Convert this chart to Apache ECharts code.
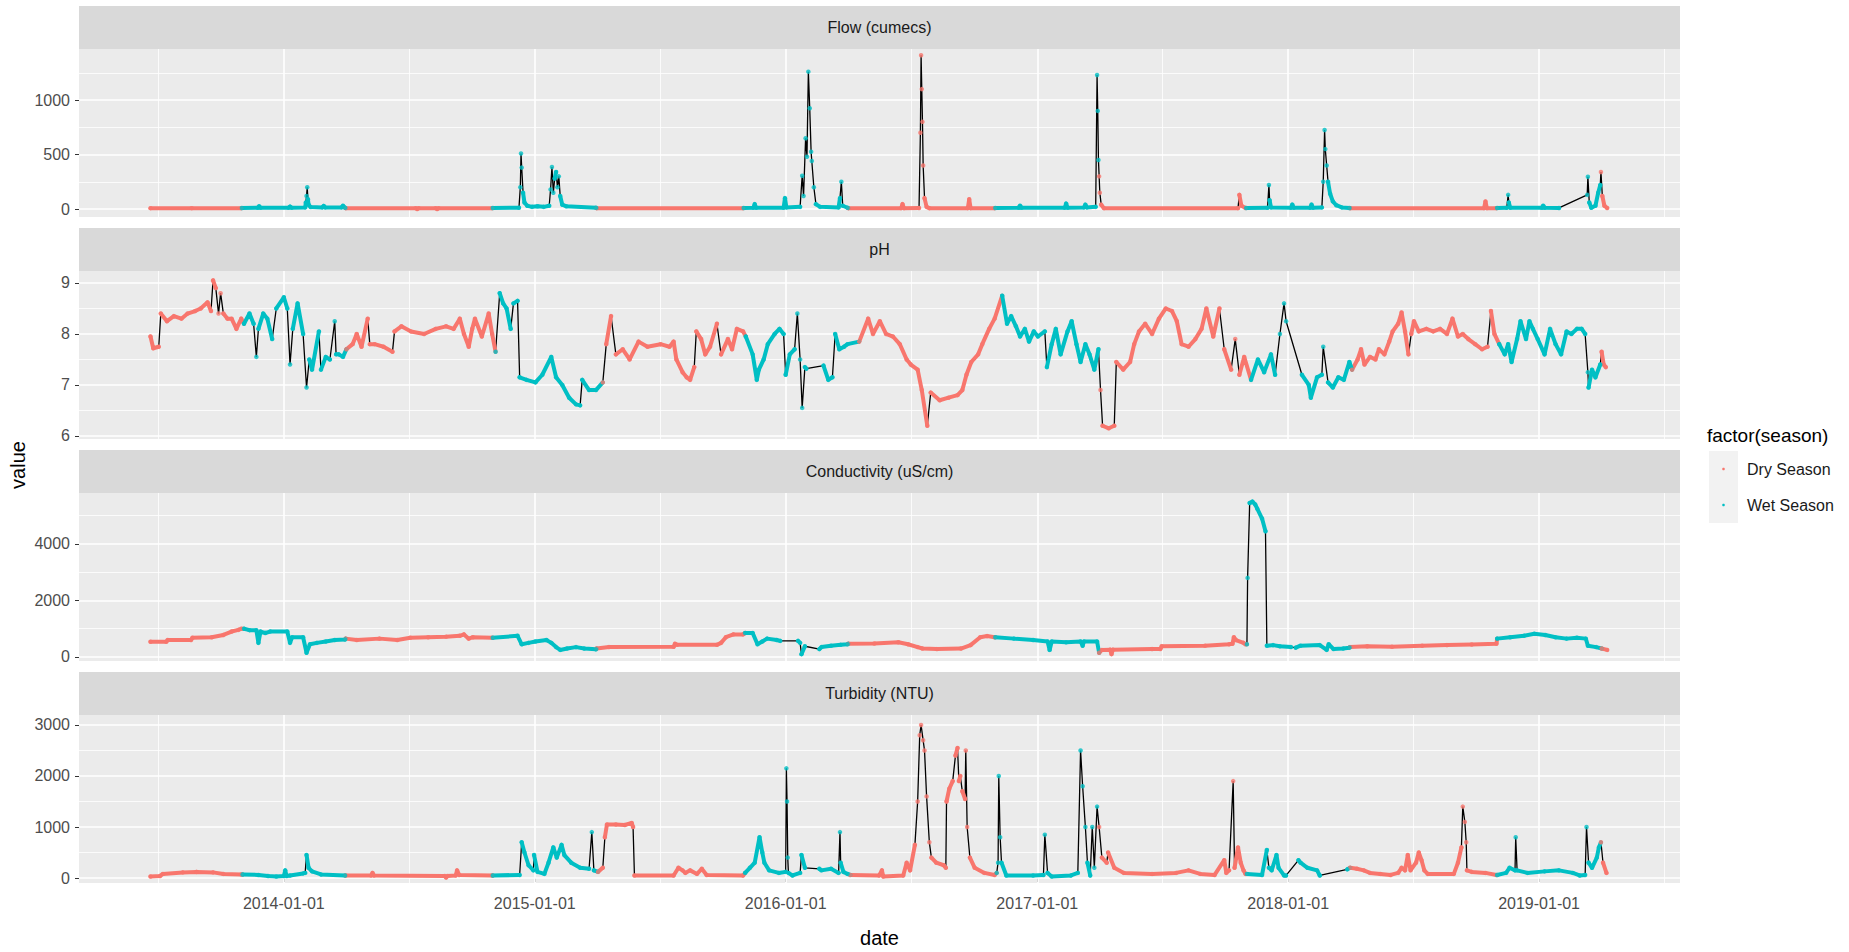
<!DOCTYPE html>
<html>
<head>
<meta charset="utf-8">
<title>Water quality time series by season</title>
<script src="https://cdn.jsdelivr.net/npm/echarts@6/dist/echarts.min.js"></script>
<style>
  html, body { margin: 0; padding: 0; background: #ffffff; }
  #chart { width: 1849px; height: 952px; }
</style>
</head>
<body>
<div id="chart"></div>
<script>
// ---------------------------------------------------------------------------
// Data: daily readings summarised as [date, value]; null marks a stretch with
// no records (the connecting line still runs across it).
// ---------------------------------------------------------------------------
const facetTitles = ['Flow (cumecs)', 'pH', 'Conductivity (uS/cm)', 'Turbidity (NTU)'];
const seasonNames = ['Dry Season', 'Wet Season'];
const wetMonths = [11, 12, 1, 2, 3];

const yearTicks = ['2014-01-01', '2015-01-01', '2016-01-01', '2017-01-01', '2018-01-01', '2019-01-01'];
const dateLimits = ['2013-03-09', '2019-07-25'];

const flowTicks = [0, 500, 1000];
const phTicks = [6, 7, 8, 9];
const condTicks = [0, 2000, 4000];
const turbTicks = [0, 1000, 2000, 3000];

const flowLimits = [-73, 1468];
const phLimits = [5.94, 9.235];
const condLimits = [-142, 5805];
const turbLimits = [-98, 3196];

const flowData = [
  ['2013-06-21', 8], ['2013-08-20', 8], ['2013-10-31', 8],
  ['2013-11-01', 10], ['2013-11-24', 12], ['2013-11-26', 25], ['2013-11-28', 12],
  ['2014-01-08', 12], ['2014-01-10', 22], ['2014-01-12', 12],
  ['2014-02-01', 15], ['2014-02-02', 60], ['2014-02-03', 120], ['2014-02-04', 200], ['2014-02-05', 90], ['2014-02-06', 40], ['2014-02-09', 18],
  ['2014-02-26', 15], ['2014-02-28', 28], ['2014-03-02', 15], ['2014-03-26', 15], ['2014-03-28', 30], ['2014-03-31', 12],
  ['2014-04-01', 8], ['2014-07-12', 8], ['2014-07-14', 0], ['2014-07-16', 8], ['2014-08-10', 8], ['2014-08-12', 0], ['2014-08-14', 8], ['2014-10-31', 8],
  ['2014-11-01', 10], ['2014-12-09', 12], ['2014-12-11', 200], ['2014-12-12', 510], ['2014-12-13', 380], ['2014-12-15', 150], ['2014-12-17', 60], ['2014-12-21', 30], ['2014-12-28', 20], ['2015-01-05', 25], ['2015-01-14', 20],
  ['2015-01-22', 30], ['2015-01-24', 180], ['2015-01-26', 385], ['2015-01-28', 150], ['2015-01-30', 280], ['2015-02-01', 340], ['2015-02-03', 200], ['2015-02-05', 300], ['2015-02-07', 120], ['2015-02-10', 40], ['2015-02-16', 25], ['2015-03-31', 12],
  ['2015-04-01', 8], ['2015-10-31', 8],
  ['2015-11-01', 10], ['2015-11-15', 12], ['2015-11-17', 45], ['2015-11-19', 12], ['2015-12-29', 12], ['2015-12-31', 100], ['2016-01-02', 15],
  ['2016-01-22', 20], ['2016-01-25', 305], ['2016-01-27', 120], ['2016-01-30', 650], ['2016-02-01', 480], ['2016-02-03', 1260], ['2016-02-05', 925], ['2016-02-07', 525], ['2016-02-08', 440], ['2016-02-11', 200], ['2016-02-14', 45], ['2016-02-20', 20],
  ['2016-03-18', 15], ['2016-03-20', 100], ['2016-03-22', 250], ['2016-03-24', 30], ['2016-03-31', 12],
  ['2016-04-01', 8], ['2016-06-17', 8], ['2016-06-19', 45], ['2016-06-21', 8],
  ['2016-07-13', 10], ['2016-07-15', 700], ['2016-07-16', 1410], ['2016-07-17', 1100], ['2016-07-18', 800], ['2016-07-19', 400], ['2016-07-21', 100], ['2016-07-24', 20], ['2016-07-28', 8],
  ['2016-09-22', 8], ['2016-09-24', 90], ['2016-09-26', 8], ['2016-10-31', 8],
  ['2016-11-01', 10], ['2016-12-05', 12], ['2016-12-07', 30], ['2016-12-09', 12], ['2017-02-10', 12], ['2017-02-12', 50], ['2017-02-14', 12], ['2017-03-10', 15], ['2017-03-12', 40], ['2017-03-14', 15],
  ['2017-03-27', 20], ['2017-03-29', 1230], ['2017-03-30', 900], ['2017-03-31', 450],
  ['2017-04-01', 300], ['2017-04-02', 150], ['2017-04-04', 40], ['2017-04-08', 8], ['2017-10-20', 8], ['2017-10-22', 130], ['2017-10-25', 30], ['2017-10-31', 10],
  ['2017-11-01', 10], ['2017-12-02', 12], ['2017-12-04', 220], ['2017-12-05', 80], ['2017-12-07', 15], ['2018-01-05', 12], ['2018-01-07', 40], ['2018-01-09', 12], ['2018-02-02', 12], ['2018-02-04', 40], ['2018-02-06', 12],
  ['2018-02-19', 15], ['2018-02-21', 250], ['2018-02-23', 725], ['2018-02-24', 550], ['2018-02-26', 400], ['2018-02-28', 250], ['2018-03-03', 140], ['2018-03-07', 70], ['2018-03-12', 35], ['2018-03-20', 15], ['2018-03-31', 10],
  ['2018-04-01', 8], ['2018-10-13', 8], ['2018-10-15', 70], ['2018-10-17', 8], ['2018-10-31', 8],
  ['2018-11-01', 10], ['2018-11-15', 12], ['2018-11-17', 130], ['2018-11-18', 60], ['2018-11-20', 12], ['2019-01-05', 12], ['2019-01-07', 30], ['2019-01-09', 12], ['2019-01-30', 10],
  ['2019-02-20', null],
  ['2019-03-12', 130], ['2019-03-13', 296], ['2019-03-15', 60], ['2019-03-18', 12], ['2019-03-24', 30], ['2019-03-28', 150], ['2019-03-31', 220],
  ['2019-04-01', 340], ['2019-04-03', 120], ['2019-04-06', 30], ['2019-04-10', 10]
];

const phData = [
  ['2013-06-21', 7.95], ['2013-06-25', 7.72], ['2013-07-03', 7.75], ['2013-07-06', 8.4], ['2013-07-15', 8.25], ['2013-07-25', 8.35], ['2013-08-05', 8.3], ['2013-08-14', 8.4],
  ['2013-08-25', 8.45], ['2013-09-02', 8.5], ['2013-09-12', 8.62], ['2013-09-17', 8.45], ['2013-09-20', 9.05], ['2013-09-24', 8.9], ['2013-09-28', 8.4], ['2013-10-01', 8.8],
  ['2013-10-05', 8.4], ['2013-10-11', 8.3], ['2013-10-17', 8.3], ['2013-10-24', 8.1], ['2013-10-31', 8.3],
  ['2013-11-04', 8.2], ['2013-11-12', 8.4], ['2013-11-18', 8.2], ['2013-11-22', 7.55], ['2013-11-25', 8.1], ['2013-12-02', 8.4], ['2013-12-08', 8.3], ['2013-12-15', 7.9],
  ['2013-12-21', 8.5], ['2014-01-01', 8.72], ['2014-01-06', 8.5], ['2014-01-10', 7.4], ['2014-01-14', 8.1], ['2014-01-21', 8.6], ['2014-01-29', 8.0], ['2014-02-03', 6.95],
  ['2014-02-07', 7.5], ['2014-02-11', 7.3], ['2014-02-21', 8.05], ['2014-02-24', 7.3], ['2014-03-03', 7.55], ['2014-03-09', 7.5], ['2014-03-16', 8.25], ['2014-03-18', 7.6],
  ['2014-03-22', 7.6], ['2014-03-28', 7.55],
  ['2014-04-02', 7.7], ['2014-04-11', 7.8], ['2014-04-17', 8.0], ['2014-04-24', 7.75], ['2014-05-03', 8.3], ['2014-05-06', 7.8], ['2014-05-13', 7.8], ['2014-05-26', 7.75],
  ['2014-06-08', 7.65], ['2014-06-11', 8.05], ['2014-06-21', 8.15], ['2014-07-05', 8.05], ['2014-07-24', 8.0], ['2014-08-10', 8.1], ['2014-08-25', 8.15], ['2014-09-05', 8.1],
  ['2014-09-14', 8.3], ['2014-09-20', 8.0], ['2014-09-27', 7.75], ['2014-10-02', 8.1], ['2014-10-06', 8.3], ['2014-10-16', 7.95], ['2014-10-26', 8.4], ['2014-10-31', 8.0],
  ['2014-11-05', 7.65], ['2014-11-11', 8.8], ['2014-11-16', 8.6], ['2014-11-21', 8.5], ['2014-11-27', 8.1], ['2014-12-01', 8.6], ['2014-12-07', 8.65], ['2014-12-10', 7.15],
  ['2014-12-20', 7.1], ['2015-01-02', 7.05], ['2015-01-12', 7.2], ['2015-01-25', 7.55], ['2015-02-01', 7.15], ['2015-02-10', 7.0], ['2015-02-20', 6.75], ['2015-03-02', 6.62],
  ['2015-03-08', 6.6], ['2015-03-11', 7.1], ['2015-03-21', 6.9], ['2015-03-31', 6.9],
  ['2015-04-10', 7.05], ['2015-04-15', 7.8], ['2015-04-22', 8.35], ['2015-04-29', 7.6], ['2015-05-09', 7.7], ['2015-05-19', 7.5], ['2015-06-01', 7.85], ['2015-06-14', 7.75],
  ['2015-07-03', 7.8], ['2015-07-16', 7.75], ['2015-07-22', 7.85], ['2015-07-26', 7.5], ['2015-08-04', 7.25], ['2015-08-10', 7.15], ['2015-08-15', 7.1], ['2015-08-21', 7.35],
  ['2015-08-24', 8.05], ['2015-08-31', 7.9], ['2015-09-06', 7.6], ['2015-09-13', 7.75], ['2015-09-23', 8.2], ['2015-09-29', 7.6], ['2015-10-09', 7.9], ['2015-10-15', 7.7],
  ['2015-10-22', 8.1], ['2015-10-31', 8.05],
  ['2015-11-04', 7.95], ['2015-11-14', 7.6], ['2015-11-20', 7.1], ['2015-11-23', 7.3], ['2015-11-30', 7.5], ['2015-12-06', 7.8], ['2015-12-16', 8.0], ['2015-12-23', 8.1],
  ['2015-12-29', 8.0], ['2016-01-01', 7.2], ['2016-01-07', 7.6], ['2016-01-14', 7.7], ['2016-01-18', 8.4], ['2016-01-22', 7.5], ['2016-01-25', 6.55], ['2016-01-29', 7.35],
  ['2016-01-31', 7.32], ['2016-02-10', null], ['2016-02-25', 7.38], ['2016-03-03', 7.1], ['2016-03-09', 7.15], ['2016-03-13', 8.0], ['2016-03-19', 7.7], ['2016-03-26', 7.75],
  ['2016-03-31', 7.8],
  ['2016-04-17', 7.85], ['2016-04-30', 8.3], ['2016-05-07', 8.0], ['2016-05-17', 8.25], ['2016-05-26', 8.0], ['2016-06-05', 7.95], ['2016-06-15', 7.8], ['2016-06-25', 7.5],
  ['2016-07-01', 7.4], ['2016-07-11', 7.3], ['2016-07-17', 6.9], ['2016-07-25', 6.2], ['2016-07-30', 6.85], ['2016-08-12', 6.7], ['2016-08-25', 6.75], ['2016-09-07', 6.8],
  ['2016-09-14', 6.9], ['2016-09-20', 7.2], ['2016-09-27', 7.45], ['2016-10-07', 7.6], ['2016-10-13', 7.8], ['2016-10-23', 8.1], ['2016-10-31', 8.3],
  ['2016-11-11', 8.75], ['2016-11-18', 8.2], ['2016-11-24', 8.35], ['2016-12-01', 8.15], ['2016-12-07', 7.95], ['2016-12-14', 8.1], ['2016-12-20', 7.85], ['2016-12-27', 8.05],
  ['2017-01-02', 7.95], ['2017-01-12', 8.05], ['2017-01-15', 7.35], ['2017-01-22', 7.8], ['2017-01-28', 8.1], ['2017-02-04', 7.6], ['2017-02-14', 8.05], ['2017-02-20', 8.25],
  ['2017-02-27', 7.8], ['2017-03-05', 7.45], ['2017-03-12', 7.8], ['2017-03-18', 7.6], ['2017-03-25', 7.3], ['2017-03-31', 7.7],
  ['2017-04-03', 6.9], ['2017-04-06', 6.2], ['2017-04-15', 6.15], ['2017-04-23', 6.2], ['2017-04-26', 7.45], ['2017-05-06', 7.3], ['2017-05-16', 7.45], ['2017-05-22', 7.8],
  ['2017-05-29', 8.05], ['2017-06-07', 8.2], ['2017-06-17', 8.0], ['2017-06-27', 8.3], ['2017-07-07', 8.5], ['2017-07-16', 8.45], ['2017-07-23', 8.25], ['2017-07-30', 7.8],
  ['2017-08-09', 7.75], ['2017-08-19', 7.9], ['2017-08-28', 8.1], ['2017-09-04', 8.5], ['2017-09-14', 7.95], ['2017-09-23', 8.5], ['2017-09-30', 7.7], ['2017-10-10', 7.3],
  ['2017-10-16', 7.9], ['2017-10-22', 7.2], ['2017-10-29', 7.55],
  ['2017-11-08', 7.1], ['2017-11-18', 7.5], ['2017-11-27', 7.25], ['2017-12-07', 7.6], ['2017-12-13', 7.2], ['2017-12-20', 8.0], ['2017-12-26', 8.6], ['2017-12-29', 8.25],
  ['2018-01-10', null], ['2018-01-21', 7.2], ['2018-01-31', 7.0], ['2018-02-03', 6.75], ['2018-02-12', 7.15], ['2018-02-19', 7.2], ['2018-02-21', 7.75], ['2018-02-28', 7.05],
  ['2018-03-07', 6.95], ['2018-03-15', 7.15], ['2018-03-23', 7.1], ['2018-03-31', 7.45],
  ['2018-04-04', 7.3], ['2018-04-12', 7.5], ['2018-04-17', 7.7], ['2018-04-22', 7.4], ['2018-04-30', 7.55], ['2018-05-08', 7.5], ['2018-05-13', 7.7], ['2018-05-21', 7.6],
  ['2018-05-28', 7.85], ['2018-06-02', 8.05], ['2018-06-10', 8.2], ['2018-06-15', 8.42], ['2018-06-20', 8.05], ['2018-06-25', 7.6], ['2018-06-29', 8.0], ['2018-07-03', 8.25],
  ['2018-07-10', 8.05], ['2018-07-21', 8.1], ['2018-07-31', 8.05], ['2018-08-10', 8.1], ['2018-08-20', 8.0], ['2018-08-28', 8.3], ['2018-09-05', 7.95], ['2018-09-12', 8.0],
  ['2018-09-20', 7.9], ['2018-09-30', 7.8], ['2018-10-10', 7.7], ['2018-10-18', 7.75], ['2018-10-23', 8.45], ['2018-10-28', 8.0],
  ['2018-11-04', 7.8], ['2018-11-12', 7.6], ['2018-11-17', 7.8], ['2018-11-22', 7.45], ['2018-11-30', 7.9], ['2018-12-05', 8.25], ['2018-12-13', 7.9], ['2018-12-18', 8.25],
  ['2018-12-23', 8.1], ['2018-12-30', 7.9], ['2019-01-09', 7.6], ['2019-01-17', 8.1], ['2019-01-25', 7.8], ['2019-02-02', 7.6], ['2019-02-10', 8.05], ['2019-02-17', 8.0],
  ['2019-02-25', 8.1], ['2019-03-04', 8.1], ['2019-03-09', 8.0], ['2019-03-13', 7.25], ['2019-03-14', 6.95], ['2019-03-19', 7.3], ['2019-03-24', 7.15], ['2019-03-31', 7.4],
  ['2019-04-02', 7.65], ['2019-04-05', 7.4], ['2019-04-08', 7.35]
];

const condData = [
  ['2013-06-21', 540], ['2013-07-14', 540], ['2013-07-16', 600], ['2013-08-19', 600], ['2013-08-21', 680], ['2013-09-18', 700], ['2013-10-05', 780], ['2013-10-17', 900],
  ['2013-10-27', 960], ['2013-10-31', 1000],
  ['2013-11-04', 1000], ['2013-11-12', 950], ['2013-11-22', 950], ['2013-11-25', 500], ['2013-11-28', 900], ['2013-12-05', 850], ['2013-12-12', 900], ['2014-01-06', 900],
  ['2014-01-10', 500], ['2014-01-13', 700], ['2014-01-29', 700], ['2014-02-03', 150], ['2014-02-08', 450], ['2014-02-18', 500], ['2014-03-03', 550], ['2014-03-16', 600],
  ['2014-03-31', 620],
  ['2014-04-01', 650], ['2014-04-17', 600], ['2014-05-20', 650], ['2014-06-15', 600], ['2014-07-04', 680], ['2014-07-30', 700], ['2014-08-25', 720], ['2014-09-14', 750],
  ['2014-09-20', 800], ['2014-09-27', 650], ['2014-10-03', 700], ['2014-10-31', 680],
  ['2014-11-01', 680], ['2014-12-07', 750], ['2014-12-13', 450], ['2014-12-23', 500], ['2015-01-02', 550], ['2015-01-18', 600], ['2015-01-25', 500], ['2015-02-01', 350],
  ['2015-02-07', 250], ['2015-02-17', 300], ['2015-03-02', 350], ['2015-03-14', 300], ['2015-03-31', 270],
  ['2015-04-01', 300], ['2015-04-19', 350], ['2015-07-22', 360], ['2015-07-24', 470], ['2015-07-27', 430], ['2015-09-23', 430], ['2015-09-29', 500], ['2015-10-06', 700],
  ['2015-10-17', 800], ['2015-10-31', 800],
  ['2015-11-03', 850], ['2015-11-14', 850], ['2015-11-21', 450], ['2015-11-28', 550], ['2015-12-05', 650], ['2015-12-19', 600], ['2015-12-24', 570],
  ['2016-01-05', null],
  ['2016-01-19', 570], ['2016-01-22', 500], ['2016-01-24', 100], ['2016-01-29', 380],
  ['2016-02-08', null],
  ['2016-02-19', 280], ['2016-02-22', 350], ['2016-03-07', 400], ['2016-03-21', 430], ['2016-03-31', 450],
  ['2016-04-01', 470], ['2016-05-09', 480], ['2016-06-13', 520], ['2016-06-27', 450], ['2016-07-11', 350], ['2016-07-18', 300], ['2016-08-08', 280], ['2016-09-12', 300],
  ['2016-09-26', 420], ['2016-10-10', 700], ['2016-10-20', 740], ['2016-10-31', 700],
  ['2016-11-01', 700], ['2016-11-28', 650], ['2016-12-26', 600], ['2017-01-16', 550], ['2017-01-19', 250], ['2017-01-22', 550], ['2017-02-12', 520], ['2017-03-05', 550],
  ['2017-03-08', 400], ['2017-03-10', 550], ['2017-03-29', 550],
  ['2017-04-01', 150], ['2017-04-05', 250], ['2017-04-17', 260], ['2017-04-19', 100], ['2017-04-21', 260], ['2017-06-17', 280], ['2017-06-29', 280], ['2017-07-01', 380],
  ['2017-09-02', 400], ['2017-10-07', 450], ['2017-10-12', 470], ['2017-10-14', 700], ['2017-10-17', 600], ['2017-10-28', 500], ['2017-10-31', 450],
  ['2017-11-02', 450], ['2017-11-03', 2800], ['2017-11-06', 5450], ['2017-11-10', 5500], ['2017-11-14', 5400], ['2017-11-17', 5250], ['2017-11-24', 4900], ['2017-11-29', 4450],
  ['2017-12-01', 400], ['2017-12-10', 420], ['2017-12-20', 380], ['2018-01-05', 350],
  ['2018-01-09', null],
  ['2018-01-12', 330], ['2018-01-19', 400], ['2018-02-16', 420], ['2018-02-26', 250], ['2018-03-01', 450], ['2018-03-08', 280], ['2018-03-22', 300], ['2018-03-31', 330],
  ['2018-04-01', 350], ['2018-04-26', 380], ['2018-06-01', 360], ['2018-07-15', 400], ['2018-08-20', 420], ['2018-09-25', 440], ['2018-10-31', 470],
  ['2018-11-01', 650], ['2018-11-20', 700], ['2018-12-10', 750], ['2018-12-25', 820], ['2019-01-10', 780], ['2019-01-25', 700], ['2019-02-10', 650], ['2019-02-25', 680],
  ['2019-03-10', 650], ['2019-03-13', 400], ['2019-03-25', 350],
  ['2019-04-02', 300], ['2019-04-10', 250]
];

const turbData = [
  ['2013-06-21', 30], ['2013-07-05', 40], ['2013-07-09', 80], ['2013-08-07', 110], ['2013-08-27', 120], ['2013-09-20', 110], ['2013-10-05', 80], ['2013-10-31', 70],
  ['2013-11-02', 70], ['2013-11-25', 60], ['2013-12-09', 40], ['2013-12-21', 30], ['2014-01-01', 40], ['2014-01-03', 150], ['2014-01-05', 40], ['2014-01-10', 50],
  ['2014-01-29', 90], ['2014-02-01', 100], ['2014-02-03', 450], ['2014-02-06', 200], ['2014-02-11', 130], ['2014-02-24', 70], ['2014-03-31', 50],
  ['2014-04-01', 50], ['2014-05-08', 50], ['2014-05-10', 100], ['2014-05-12', 50], ['2014-08-23', 40], ['2014-08-25', 10], ['2014-08-27', 40], ['2014-09-08', 50],
  ['2014-09-10', 150], ['2014-09-13', 60], ['2014-10-31', 50],
  ['2014-11-01', 50], ['2014-12-10', 60], ['2014-12-13', 700], ['2014-12-17', 500], ['2014-12-23', 250], ['2014-12-30', 150], ['2014-12-31', 450], ['2015-01-05', 120],
  ['2015-01-15', 80], ['2015-01-21', 300], ['2015-01-28', 600], ['2015-02-02', 400], ['2015-02-09', 650], ['2015-02-13', 450], ['2015-02-23', 300], ['2015-03-08', 200],
  ['2015-03-21', 180], ['2015-03-25', 900], ['2015-03-28', 150],
  ['2015-04-03', 120], ['2015-04-10', 200], ['2015-04-13', 800], ['2015-04-16', 1050], ['2015-04-29', 1050], ['2015-05-12', 1040], ['2015-05-22', 1080], ['2015-05-24', 1000],
  ['2015-05-26', 50], ['2015-07-22', 50], ['2015-07-29', 200], ['2015-08-04', 150], ['2015-08-08', 100], ['2015-08-15', 150], ['2015-08-25', 80], ['2015-09-01', 180],
  ['2015-09-08', 60], ['2015-10-31', 50],
  ['2015-11-03', 100], ['2015-11-10', 200], ['2015-11-17', 300], ['2015-11-24', 800], ['2015-11-28', 500], ['2015-12-01', 300], ['2015-12-08', 150], ['2015-12-22', 100],
  ['2016-01-01', 120], ['2016-01-02', 2150], ['2016-01-03', 1500], ['2016-01-04', 400], ['2016-01-05', 100], ['2016-01-11', 50], ['2016-01-22', 100], ['2016-01-24', 450],
  ['2016-01-29', 200], ['2016-02-08', null], ['2016-02-19', 180], ['2016-02-22', 150], ['2016-03-07', 180], ['2016-03-18', 100], ['2016-03-20', 900], ['2016-03-21', 300],
  ['2016-03-25', 120], ['2016-03-31', 80],
  ['2016-04-04', 60], ['2016-05-16', 50], ['2016-05-20', 150], ['2016-05-22', 30], ['2016-06-20', 50], ['2016-06-25', 300], ['2016-06-30', 150], ['2016-07-07', 650],
  ['2016-07-11', 1500], ['2016-07-14', 2800], ['2016-07-16', 3000], ['2016-07-19', 2700], ['2016-07-21', 2500], ['2016-07-24', 1600], ['2016-07-28', 700], ['2016-07-31', 400],
  ['2016-08-07', 300], ['2016-08-18', 250], ['2016-08-21', 200], ['2016-08-22', 1500], ['2016-08-26', 1750], ['2016-08-31', 1900], ['2016-09-04', 2400], ['2016-09-07', 2550],
  ['2016-09-09', 1900], ['2016-09-11', 2000], ['2016-09-14', 1700], ['2016-09-18', 1550], ['2016-09-19', 2500], ['2016-09-21', 1000], ['2016-09-25', 400], ['2016-10-02', 200],
  ['2016-10-16', 100], ['2016-10-31', 60],
  ['2016-11-03', 100], ['2016-11-05', 300], ['2016-11-06', 2000], ['2016-11-08', 800], ['2016-11-10', 300], ['2016-11-17', 50], ['2016-12-26', 50], ['2017-01-10', 60],
  ['2017-01-12', 850], ['2017-01-16', 100], ['2017-01-22', 30], ['2017-02-19', 50], ['2017-03-01', 100], ['2017-03-05', 2500], ['2017-03-08', 1800], ['2017-03-12', 1000],
  ['2017-03-15', 300], ['2017-03-19', 50], ['2017-03-22', 1000], ['2017-03-25', 200], ['2017-03-29', 1400],
  ['2017-04-01', 1000], ['2017-04-05', 400], ['2017-04-12', 300], ['2017-04-14', 500], ['2017-04-23', 200], ['2017-05-07', 100], ['2017-06-17', 80], ['2017-07-22', 100],
  ['2017-08-09', 150], ['2017-08-26', 80], ['2017-09-16', 60], ['2017-09-30', 350], ['2017-10-03', 100], ['2017-10-07', 150], ['2017-10-13', 1900], ['2017-10-15', 200],
  ['2017-10-20', 600], ['2017-10-24', 300], ['2017-10-28', 150], ['2017-10-31', 80],
  ['2017-11-02', 80], ['2017-11-24', 60], ['2017-12-01', 550], ['2017-12-04', 200], ['2017-12-08', 150], ['2017-12-15', 450], ['2017-12-18', 200], ['2017-12-26', 50],
  ['2017-12-29', 50], ['2018-01-07', null], ['2018-01-16', 350], ['2018-01-19', 300], ['2018-01-29', 200], ['2018-02-12', 150], ['2018-02-16', 50],
  ['2018-03-05', null], ['2018-03-28', 170],
  ['2018-04-01', 200], ['2018-04-11', 180], ['2018-04-21', 150], ['2018-04-30', 100], ['2018-05-15', 80], ['2018-05-30', 60], ['2018-06-10', 100], ['2018-06-15', 200],
  ['2018-06-20', 150], ['2018-06-24', 450], ['2018-06-28', 150], ['2018-07-06', 300], ['2018-07-10', 500], ['2018-07-14', 350], ['2018-07-18', 150], ['2018-07-23', 80],
  ['2018-08-30', 80], ['2018-09-05', 300], ['2018-09-10', 600], ['2018-09-12', 1400], ['2018-09-15', 1100], ['2018-09-17', 700], ['2018-09-18', 150], ['2018-09-25', 120],
  ['2018-10-15', 100], ['2018-10-31', 60],
  ['2018-11-01', 60], ['2018-11-14', 100], ['2018-11-19', 200], ['2018-11-27', 150], ['2018-11-28', 800], ['2018-11-30', 150], ['2018-12-15', 100], ['2019-01-09', 130],
  ['2019-01-30', 150], ['2019-02-19', 100], ['2019-03-01', 50], ['2019-03-09', 60], ['2019-03-11', 1000], ['2019-03-14', 300], ['2019-03-19', 200], ['2019-03-26', 400],
  ['2019-03-29', 600],
  ['2019-04-01', 700], ['2019-04-04', 300], ['2019-04-09', 100]
];

// ---------------------------------------------------------------------------
// Layout and styling
// ---------------------------------------------------------------------------
const FONT = "'Liberation Sans', Arial, Helvetica, sans-serif";
const PANEL_LEFT = 79;
const PANEL_WIDTH = 1601;
const STRIP_TOPS = [6, 228, 450, 672];
const STRIP_H = 43;
const PANEL_H = 168;
const SEASON_COLORS = { 'Dry Season': '#F8766D', 'Wet Season': '#00BFC4' };
const DAY = 86400000;

function ts(s) {
  const p = s.split('-');
  return Date.UTC(+p[0], +p[1] - 1, +p[2]);
}
function pad(n) { return n < 10 ? '0' + n : '' + n; }
function fmtDate(v) {
  const d = new Date(v);
  return d.getUTCFullYear() + '-' + pad(d.getUTCMonth() + 1) + '-' + pad(d.getUTCDate());
}
function seasonOf(t) {
  const m = new Date(t).getUTCMonth() + 1;
  return wetMonths.indexOf(m) >= 0 ? 'Wet Season' : 'Dry Season';
}
// gridline positions halfway between the labelled breaks (and one half-step beyond each end)
function minorBreaks(major, lo, hi) {
  const out = [];
  for (let i = 0; i < major.length - 1; i++) out.push((major[i] + major[i + 1]) / 2);
  if (major.length > 1) {
    out.push(major[0] - (major[1] - major[0]) / 2);
    const n = major.length;
    out.push(major[n - 1] + (major[n - 1] - major[n - 2]) / 2);
  }
  return out.filter(v => v > lo && v < hi);
}

const facets = [
  { title: facetTitles[0], data: flowData, ticks: flowTicks, limits: flowLimits },
  { title: facetTitles[1], data: phData, ticks: phTicks, limits: phLimits },
  { title: facetTitles[2], data: condData, ticks: condTicks, limits: condLimits },
  { title: facetTitles[3], data: turbData, ticks: turbTicks, limits: turbLimits }
];

const xMin = ts(dateLimits[0]);
const xMax = ts(dateLimits[1]);
const yearTs = yearTicks.map(ts);
const yearMinor = minorBreaks(yearTs, xMin, xMax);

const grids = [], xAxes = [], yAxes = [], series = [], graphics = [];

facets.forEach((f, k) => {
  const last = k === facets.length - 1;
  const top = STRIP_TOPS[k] + STRIP_H;
  const [yMin, yMax] = f.limits;

  grids.push({
    left: PANEL_LEFT, width: PANEL_WIDTH, top: top, height: PANEL_H,
    show: true, backgroundColor: '#EBEBEB', borderWidth: 0
  });

  // date axis: millisecond timestamps on a linear scale, breaks at each new year
  xAxes.push({
    type: 'value', gridIndex: k, min: xMin, max: xMax, scale: true,
    axisLine: { show: false },
    splitLine: { show: false },
    axisTick: last
      ? { show: true, customValues: yearTs, length: 4, lineStyle: { color: '#333333', width: 1 } }
      : { show: false },
    axisLabel: last
      ? { show: true, customValues: yearTs, formatter: fmtDate, color: '#4D4D4D', fontSize: 16, fontFamily: FONT, margin: 12 }
      : { show: false }
  });

  yAxes.push({
    type: 'value', gridIndex: k, min: yMin, max: yMax,
    axisLine: { show: false },
    splitLine: { show: false },
    axisTick: { show: true, customValues: f.ticks, length: 4, lineStyle: { color: '#333333', width: 1 } },
    axisLabel: { show: true, customValues: f.ticks, formatter: v => String(v), color: '#4D4D4D', fontSize: 16, fontFamily: FONT, margin: 9 }
  });

  // panel gridlines, kept underneath the data
  const gl = [];
  yearMinor.forEach(t => gl.push({ xAxis: t, lineStyle: { color: '#FFFFFF', width: 0.8, type: 'solid' } }));
  minorBreaks(f.ticks, yMin, yMax).forEach(v => gl.push({ yAxis: v, lineStyle: { color: '#FFFFFF', width: 0.8, type: 'solid' } }));
  yearTs.forEach(t => gl.push({ xAxis: t, lineStyle: { color: '#FFFFFF', width: 1.6, type: 'solid' } }));
  f.ticks.forEach(v => gl.push({ yAxis: v, lineStyle: { color: '#FFFFFF', width: 1.6, type: 'solid' } }));
  series.push({
    type: 'line', xAxisIndex: k, yAxisIndex: k, silent: true, z: 1,
    data: [[xMin, yMin]], symbol: 'none', lineStyle: { opacity: 0 },
    markLine: { z: 1, silent: true, symbol: ['none', 'none'], label: { show: false }, animation: false, data: gl }
  });

  const pts = f.data.map(d => ({ t: ts(d[0]), v: d[1] }));
  const valid = pts.filter(p => p.v !== null);
  const pxPerUnit = PANEL_H / (yMax - yMin);
  // a step too abrupt for the daily points to fill shows as the bare connecting line
  const steep = (a, b) => {
    const dpx = Math.abs(b.v - a.v) * pxPerUnit;
    const days = Math.max((b.t - a.t) / DAY, 1);
    return dpx > 6 && dpx / days > 5;
  };

  // connecting line through every record
  series.push({
    type: 'line', xAxisIndex: k, yAxisIndex: k, silent: true, z: 3,
    data: valid.map(p => [p.t, p.v]), symbol: 'none',
    lineStyle: { color: '#000000', width: 1.3 }
  });

  seasonNames.forEach(S => {
    const band = [];
    let lastIdx = -1;
    for (let i = 0; i < pts.length - 1; i++) {
      const a = pts[i], b = pts[i + 1];
      if (a.v === null || b.v === null || steep(a, b) || seasonOf(a.t) !== S) continue;
      if (lastIdx !== i) {
        if (band.length) band.push([a.t, null]);
        band.push([a.t, a.v]);
      }
      band.push([b.t, b.v]);
      lastIdx = i + 1;
    }
    series.push({
      type: 'line', name: S, xAxisIndex: k, yAxisIndex: k, silent: true, z: 4,
      data: band, symbol: 'none', connectNulls: false,
      lineStyle: { color: SEASON_COLORS[S], width: 4, cap: 'round', join: 'round' }
    });
    series.push({
      type: 'scatter', name: S, xAxisIndex: k, yAxisIndex: k, silent: true, z: 5,
      data: valid.filter(p => seasonOf(p.t) === S).map(p => [p.t, p.v]),
      symbol: 'circle', symbolSize: 4.5,
      itemStyle: { color: SEASON_COLORS[S] }
    });
  });

  // facet strip
  graphics.push({
    type: 'rect', silent: true, z: 0,
    shape: { x: PANEL_LEFT, y: STRIP_TOPS[k], width: PANEL_WIDTH, height: STRIP_H },
    style: { fill: '#D9D9D9' }
  });
  graphics.push({
    type: 'text', silent: true, z: 1,
    x: PANEL_LEFT + PANEL_WIDTH / 2, y: STRIP_TOPS[k] + STRIP_H / 2,
    style: { text: f.title, fill: '#1A1A1A', fontSize: 16, fontFamily: FONT, align: 'center', verticalAlign: 'middle' }
  });
});

// axis titles
graphics.push({
  type: 'text', silent: true, x: PANEL_LEFT + PANEL_WIDTH / 2, y: 938,
  style: { text: 'date', fill: '#000000', fontSize: 20, fontFamily: FONT, align: 'center', verticalAlign: 'middle' }
});
graphics.push({
  type: 'text', silent: true, x: 18, y: 465, rotation: Math.PI / 2,
  style: { text: 'value', fill: '#000000', fontSize: 20, fontFamily: FONT, align: 'center', verticalAlign: 'middle' }
});

// legend
graphics.push({
  type: 'text', silent: true, x: 1707, y: 435,
  style: { text: 'factor(season)', fill: '#000000', fontSize: 19, fontFamily: FONT, align: 'left', verticalAlign: 'middle' }
});
seasonNames.forEach((S, i) => {
  const y0 = 451 + i * 36;
  graphics.push({ type: 'rect', silent: true, shape: { x: 1709, y: y0, width: 29, height: 36 }, style: { fill: '#F2F2F2' } });
  graphics.push({ type: 'circle', silent: true, shape: { cx: 1723.5, cy: y0 + 18, r: 1.3 }, style: { fill: SEASON_COLORS[S] } });
  graphics.push({
    type: 'text', silent: true, x: 1747, y: y0 + 18,
    style: { text: S, fill: '#1A1A1A', fontSize: 16, fontFamily: FONT, align: 'left', verticalAlign: 'middle' }
  });
});

const chart = echarts.init(document.getElementById('chart'), null, { renderer: 'svg' });
chart.setOption({
  animation: false,
  backgroundColor: '#FFFFFF',
  textStyle: { fontFamily: FONT },
  grid: grids,
  xAxis: xAxes,
  yAxis: yAxes,
  series: series,
  graphic: { elements: graphics }
});
</script>
</body>
</html>
